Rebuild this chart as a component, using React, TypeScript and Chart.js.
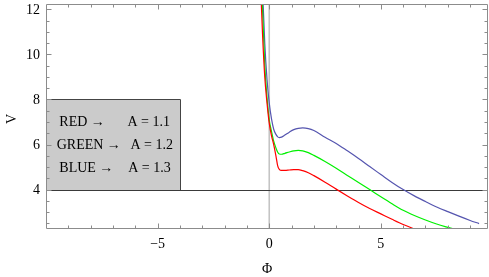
import React, { useEffect, useRef } from 'react';
import { Chart, registerables } from 'chart.js';

Chart.register(...registerables);

// Φ values shared by the three curves
const phi = [-0.4, -0.3, -0.2, -0.1, 0, 0.1, 0.2, 0.3, 0.38, 0.45, 0.55, 0.7, 0.9, 1.1, 1.3, 1.5, 1.75, 2, 2.5, 3, 3.5, 4, 4.5, 5, 5.5, 6, 6.5, 7, 7.5, 8, 8.5, 9, 9.4];
// V for A = 1.1 (red)
const vRed = [13.4, 10.9, 9.0, 7.85, 6.95, 6.4, 6.0, 5.5, 5.05, 4.9, 4.85, 4.85, 4.87, 4.89, 4.89, 4.84, 4.75, 4.62, 4.33, 4.02, 3.72, 3.43, 3.16, 2.92, 2.68, 2.45, 2.25, 2.06, 1.9, 1.75, 1.6, 1.5, 1.4];
// V for A = 1.2 (green)
const vGreen = [14.5, 12.0, 9.55, 8.1, 7.1, 6.6, 6.15, 5.85, 5.66, 5.58, 5.57, 5.61, 5.67, 5.72, 5.74, 5.72, 5.64, 5.52, 5.25, 4.95, 4.63, 4.31, 4.0, 3.68, 3.37, 3.08, 2.85, 2.65, 2.47, 2.32, 2.18, 2.05, 1.95];
// V for A = 1.3 (blue)
const vBlue = [15.5, 12.9, 10.5, 8.9, 7.85, 7.15, 6.68, 6.45, 6.34, 6.31, 6.33, 6.42, 6.55, 6.66, 6.72, 6.74, 6.71, 6.62, 6.32, 6.05, 5.72, 5.38, 5.02, 4.67, 4.32, 4.0, 3.72, 3.47, 3.23, 3.02, 2.82, 2.63, 2.49];

const xTicks = [-5, 0, 5];
const xTickLabels = ['−5', '0', '5'];
const xMinorTicks = [-9, -8, -7, -6, -4, -3, -2, -1, 1, 2, 3, 4, 6, 7, 8, 9];
const yTicks = [4, 6, 8, 10, 12];
const yTickLabels = ['4', '6', '8', '10', '12'];
const yMinorTicks = [2.5, 3, 3.5, 4.5, 5, 5.5, 6.5, 7, 7.5, 8.5, 9, 9.5, 10.5, 11, 11.5];

const xRange = [-10, 9.8];
const yRange = [2.25, 12.24];
const xTitle = 'Φ';
const yTitle = 'V';

// legend box (data coordinates) and its text
const boxX = [-10, -4];
const boxY = [4, 8];
const legendNames = ['RED →', 'GREEN →', 'BLUE →'];
const legendValues = ['A = 1.1', 'A = 1.2', 'A = 1.3'];

const refLineY = 4;
const refLineX = 0;

const FONT = "'Liberation Serif', 'Times New Roman', serif";

const decorPlugin = {
  id: 'decor',
  beforeDatasetsDraw(chart: any) {
    const { ctx, chartArea: a, scales } = chart;
    const x = scales.x, y = scales.y;
    ctx.save();
    // legend box
    const bx0 = Math.round(x.getPixelForValue(boxX[0]));
    const bx1 = Math.round(x.getPixelForValue(boxX[1]));
    const by0 = Math.round(y.getPixelForValue(boxY[1]));
    const by1 = Math.round(y.getPixelForValue(boxY[0]));
    ctx.fillStyle = '#cbcbcb';
    ctx.fillRect(bx0, by0, bx1 - bx0, by1 - by0);
    ctx.strokeStyle = '#444';
    ctx.lineWidth = 1;
    ctx.beginPath();
    ctx.moveTo(bx0, by0 + 0.5);
    ctx.lineTo(bx1 + 0.5, by0 + 0.5);
    ctx.lineTo(bx1 + 0.5, by1);
    ctx.stroke();

    // vertical line at Φ = 0
    const vx = x.getPixelForValue(refLineX);
    ctx.strokeStyle = '#c4c4c4';
    ctx.lineWidth = 1.6;
    ctx.beginPath();
    ctx.moveTo(vx, a.top);
    ctx.lineTo(vx, a.bottom);
    ctx.stroke();

    // horizontal line at V = 4
    const hy = Math.round(y.getPixelForValue(refLineY)) + 0.5;
    ctx.strokeStyle = '#3a3a3a';
    ctx.lineWidth = 1;
    ctx.beginPath();
    ctx.moveTo(a.left, hy);
    ctx.lineTo(a.right, hy);
    ctx.stroke();

    // legend text
    ctx.fillStyle = '#000';
    ctx.font = `14px ${FONT}`;
    ctx.textBaseline = 'alphabetic';
    const rowTop = y.getPixelForValue(boxY[1]);
    const rowBase = [26.4, 49.7, 72.4];
    const nameX = [13.3, 10.7, 13.3];
    const valEnd = [124, 127, 124.7];
    for (let i = 0; i < legendNames.length; i++) {
      ctx.textAlign = 'left';
      ctx.fillText(legendNames[i], bx0 + nameX[i], rowTop + rowBase[i]);
      ctx.textAlign = 'right';
      ctx.fillText(legendValues[i], bx0 + valEnd[i], rowTop + rowBase[i]);
    }
    ctx.restore();
  },
  afterDraw(chart: any) {
    const { ctx, chartArea: a, scales } = chart;
    const x = scales.x, y = scales.y;
    ctx.save();
    // frame
    ctx.strokeStyle = '#8c8c8c';
    ctx.lineWidth = 1;
    const L = a.left + 0.5, R = a.right - 0.5, T = a.top + 0.5, B = a.bottom - 0.5;
    ctx.beginPath();
    ctx.rect(L, T, R - L, B - T);
    ctx.stroke();
    // ticks (inside the frame, mirrored)
    ctx.beginPath();
    const xt = (v: number, len: number) => {
      const px = Math.round(x.getPixelForValue(v)) + 0.5;
      ctx.moveTo(px, B); ctx.lineTo(px, B - len);
      ctx.moveTo(px, T); ctx.lineTo(px, T + len);
    };
    const yt = (v: number, len: number) => {
      const py = Math.round(y.getPixelForValue(v)) + 0.5;
      ctx.moveTo(L, py); ctx.lineTo(L + len, py);
      ctx.moveTo(R, py); ctx.lineTo(R - len, py);
    };
    xTicks.forEach(v => xt(v, 5));
    xMinorTicks.forEach(v => xt(v, 3));
    yTicks.forEach(v => yt(v, 5));
    yMinorTicks.forEach(v => yt(v, 3));
    ctx.stroke();

    // tick labels
    ctx.fillStyle = '#000';
    ctx.font = `14px ${FONT}`;
    ctx.textBaseline = 'alphabetic';
    ctx.textAlign = 'center';
    xTicks.forEach((v, i) => {
      ctx.fillText(xTickLabels[i], x.getPixelForValue(v), a.bottom + 18.5);
    });
    ctx.textAlign = 'right';
    yTicks.forEach((v, i) => {
      ctx.fillText(yTickLabels[i], a.left - 6, y.getPixelForValue(v) + 4.7);
    });
    // axis titles
    ctx.textAlign = 'center';
    ctx.fillText(xTitle, (a.left + a.right) / 2, a.bottom + 43.5);
    ctx.translate(11.2, 119);
    ctx.rotate(-Math.PI / 2);
    ctx.fillText(yTitle, 0, 4.6);
    ctx.restore();
  },
};

export default function App() {
  const ref = useRef<HTMLCanvasElement | null>(null);
  useEffect(() => {
    const canvas = ref.current;
    if (!canvas) return;
    const mk = (vals: number[]) => phi.map((p, i) => ({ x: p, y: vals[i] }));
    const chart = new Chart(canvas, {
      type: 'line',
      data: {
        datasets: [
          { data: mk(vRed), borderColor: 'rgb(255,0,0)', borderWidth: 1.2, pointRadius: 0, cubicInterpolationMode: 'monotone', fill: false },
          { data: mk(vGreen), borderColor: 'rgb(0,240,0)', borderWidth: 1.2, pointRadius: 0, cubicInterpolationMode: 'monotone', fill: false },
          { data: mk(vBlue), borderColor: 'rgb(85,85,175)', borderWidth: 1.2, pointRadius: 0, cubicInterpolationMode: 'monotone', fill: false },
        ],
      },
      options: {
        animation: false,
        responsive: false,
        devicePixelRatio: 1,
        layout: { padding: { top: 4, right: 1, left: 46, bottom: 48 } },
        plugins: { legend: { display: false }, tooltip: { enabled: false } },
        scales: {
          x: { type: 'linear', display: false, min: xRange[0], max: xRange[1] },
          y: { type: 'linear', display: false, min: yRange[0], max: yRange[1] },
        },
      },
      plugins: [decorPlugin],
    } as any);
    return () => chart.destroy();
  }, []);
  return (
    <div style={{ position: 'fixed', left: 0, top: 0, width: 489, height: 277, background: '#fff' }}>
      <canvas ref={ref} width={489} height={277} style={{ display: 'block', width: 489, height: 277 }} />
    </div>
  );
}
